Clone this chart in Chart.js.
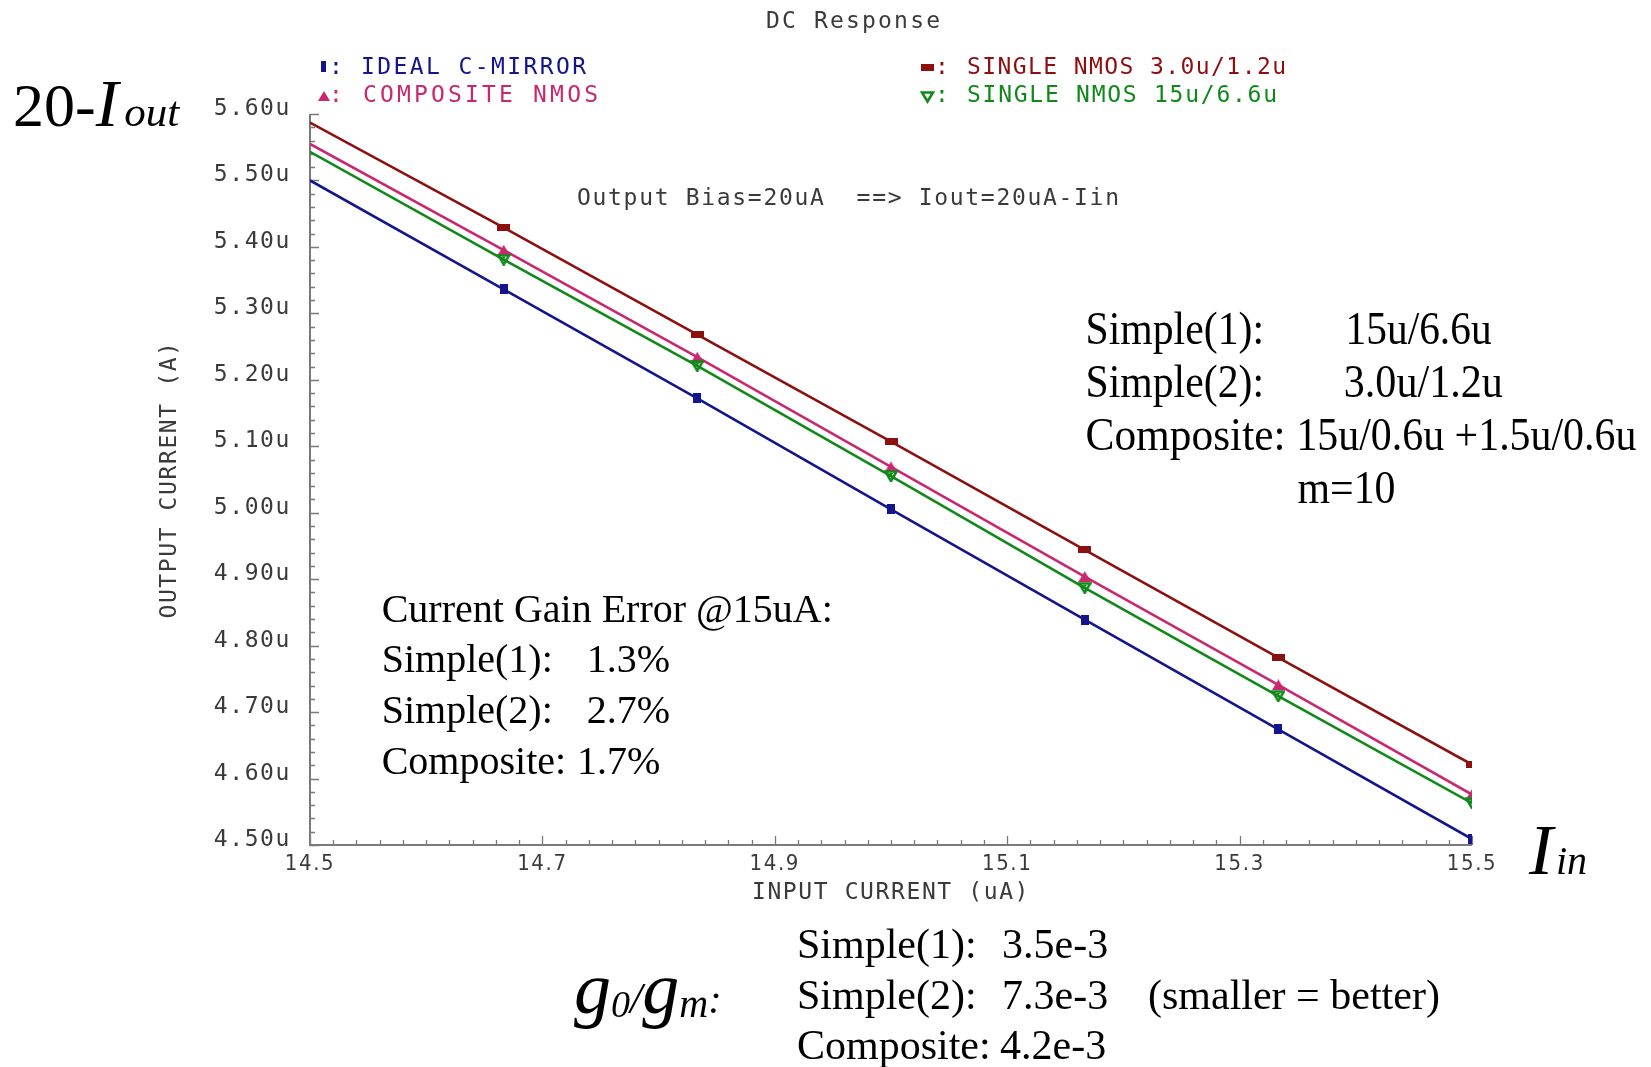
<!DOCTYPE html>
<html><head><meta charset="utf-8">
<script src="https://cdn.jsdelivr.net/npm/chart.js@4/dist/chart.umd.min.js"></script>
<style>
html,body{margin:0;padding:0;background:#fff;}
#wrap{position:relative;width:1651px;height:1067px;overflow:hidden;background:#fff;}
#c{position:absolute;left:0;top:0;}
#ov{position:absolute;left:0;top:0;pointer-events:none;}
#ov text{white-space:pre;}
</style></head><body>
<div id="wrap"><canvas id="c" width="1651" height="1067"></canvas>
<svg id="ov" width="1651" height="1067" xmlns="http://www.w3.org/2000/svg"></svg></div>
<script>
// ---- data ----
const inputCurrent   = [14.5, 14.6667, 14.8333, 15.0, 15.1667, 15.3333, 15.5];
const idealMirror    = [5.500, 5.336, 5.172, 5.005, 4.839, 4.674, 4.509];
const compositeNmos  = [5.555, 5.395, 5.234, 5.069, 4.904, 4.741, 4.576];
const singleNmos3u   = [5.587, 5.429, 5.268, 5.107, 4.944, 4.782, 4.621];
const singleNmos15u  = [5.543, 5.381, 5.221, 5.055, 4.887, 4.724, 4.563];
const seriesNames = ['IDEAL C-MIRROR', 'COMPOSITE NMOS', 'SINGLE NMOS 3.0u/1.2u', 'SINGLE NMOS 15u/6.6u'];
const yTickValues = [4.5, 4.6, 4.7, 4.8, 4.9, 5.0, 5.1, 5.2, 5.3, 5.4, 5.5, 5.6];
const yTickLabels = ['4.50u','4.60u','4.70u','4.80u','4.90u','5.00u','5.10u','5.20u','5.30u','5.40u','5.50u','5.60u'];
const xTickValues = [14.5, 14.7, 14.9, 15.1, 15.3, 15.5];
const xTickLabels = ['14.5','14.7','14.9','15.1','15.3','15.5'];

const MONO = "'DejaVu Sans Mono', monospace";
const SERIF = "'Liberation Serif', 'Times New Roman', serif";
const TXT = '#3a3a3a';
const C_BLUE = '#14148c', C_PINK = '#c8286e', C_RED = '#8c1010', C_GREEN = '#11891a';

function marker(kind, color) {
  const cv = document.createElement('canvas');
  const g = cv.getContext('2d');
  if (kind === 'vrect') { cv.width = 8; cv.height = 10; g.fillStyle = color; g.fillRect(0,0,8,10); }
  else if (kind === 'hrect') { cv.width = 13; cv.height = 7; g.fillStyle = color; g.fillRect(0,0,13,7); }
  else if (kind === 'up') { cv.width = 13; cv.height = 11; g.fillStyle = color; g.beginPath(); g.moveTo(6.5,0); g.lineTo(13,11); g.lineTo(0,11); g.closePath(); g.fill(); }
  else { cv.width = 14; cv.height = 12; g.strokeStyle = color; g.fillStyle = color; g.lineWidth = 2.5;
         g.beginPath(); g.moveTo(1.5,1.5); g.lineTo(12.5,1.5); g.lineTo(7,11); g.closePath(); g.stroke();
         g.beginPath(); g.moveTo(5,3); g.lineTo(9,3); g.lineTo(7,6.5); g.closePath(); g.fill(); }
  return cv;
}
function pts(ys) { return inputCurrent.map((x, i) => ({x: x, y: ys[i]})); }
function ds(label, ys, color, style) {
  return { label, data: pts(ys), borderColor: color, backgroundColor: color, borderWidth: 2.6,
    tension: 0, fill: false, pointStyle: style,
    pointRadius: ctx => ctx.dataIndex === 0 ? 0 : 5, pointHoverRadius: 0 };
}

const spacingPlugin = { id: 'spacing',
  beforeUpdate(chart) { chart.ctx.letterSpacing = '1.6px'; },
  beforeDraw(chart) { chart.ctx.letterSpacing = '1.6px'; } };

const innerTicks = { id: 'innerTicks',
  beforeDatasetsDraw(chart) {
    const {ctx, chartArea: a, scales: {x, y}} = chart;
    ctx.save();
    ctx.strokeStyle = '#7a7a7a';
    ctx.lineWidth = 2;
    ctx.beginPath();
    ctx.moveTo(a.left, a.top); ctx.lineTo(a.left, a.bottom); ctx.lineTo(a.right, a.bottom);
    ctx.stroke();
    ctx.lineWidth = 1.3;
    ctx.beginPath();
    const ny = 55, nx = 50;
    for (let i = 0; i <= ny; i++) {
      const py = Math.round(y.getPixelForValue(y.min + i * (y.max - y.min) / ny)) + 0.5;
      const len = i % 5 === 0 ? 9 : 5;
      ctx.moveTo(a.left, py); ctx.lineTo(a.left + len, py);
    }
    for (let i = 0; i <= nx; i++) {
      const px = Math.round(x.getPixelForValue(x.min + i * (x.max - x.min) / nx)) + 0.5;
      const len = i % 10 === 0 ? 9 : 5;
      ctx.moveTo(px, a.bottom); ctx.lineTo(px, a.bottom - len);
    }
    ctx.stroke();
    ctx.restore();
  } };

new Chart(document.getElementById('c'), {
  type: 'line',
  data: { datasets: [
    ds(seriesNames[0], idealMirror, C_BLUE, marker('vrect', C_BLUE)),
    ds(seriesNames[3], singleNmos15u, C_GREEN, marker('down', C_GREEN)),
    ds(seriesNames[1], compositeNmos, C_PINK, marker('up', C_PINK)),
    ds(seriesNames[2], singleNmos3u, C_RED, marker('hrect', C_RED))
  ]},
  options: {
    responsive: false, animation: false, events: [],
    layout: { padding: { top: 114, right: 179, bottom: 0, left: 0 } },
    plugins: { legend: { display: false }, title: { display: false }, tooltip: { enabled: false } },
    scales: {
      x: { type: 'linear', min: 14.5, max: 15.5,
        grid: { display: false, drawTicks: false }, border: { display: false },
        afterBuildTicks: s => { s.ticks = xTickValues.map(v => ({value: v})); },
        afterFit: s => { s.height = 222; },
        ticks: { padding: 6, color: TXT, autoSkip: false, maxRotation: 0,
          font: { family: "'DejaVu Sans Condensed', 'DejaVu Sans', sans-serif", size: 22 },
          callback: (v, i) => xTickLabels[i] },
        title: { display: true, text: 'INPUT CURRENT (uA)', color: TXT,
          font: { family: MONO, size: 23 }, padding: { top: 0, bottom: 160 } } },
      y: { type: 'linear', min: 4.5, max: 5.6,
        grid: { display: false, drawTicks: false }, border: { display: false },
        afterBuildTicks: s => { s.ticks = yTickValues.map(v => ({value: v})); },
        afterFit: s => { s.width = 310; },
        ticks: { padding: 19, labelOffset: -5, color: TXT, autoSkip: false,
          font: { family: MONO, size: 23 },
          callback: (v, i) => yTickLabels[i] },
        title: { display: true, text: 'OUTPUT CURRENT (A)', color: TXT,
          font: { family: MONO, size: 23 }, padding: { top: 156, bottom: 0 } } }
    }
  },
  plugins: [spacingPlugin, innerTicks]
});

// ---- overlay text (SVG) ----
const NS = 'http://www.w3.org/2000/svg';
const svg = document.getElementById('ov');
function el(tag, attrs, parent) {
  const e = document.createElementNS(NS, tag);
  for (const k in attrs) e.setAttribute(k, attrs[k]);
  (parent || svg).appendChild(e); return e;
}
function text(x, y, s, o) {
  o = o || {};
  const a = { x, y, 'font-family': o.family || SERIF, 'font-size': o.size || 40, fill: o.fill || '#000' };
  if (o.anchor) a['text-anchor'] = o.anchor;
  if (o.len) { a.textLength = o.len; a.lengthAdjust = o.adjust || 'spacingAndGlyphs'; }
  if (o.italic) a['font-style'] = 'italic';
  const t = el('text', a); t.textContent = s; return t;
}
function rich(x, y, parts) {
  const t = el('text', { x, y, 'font-family': SERIF, fill: '#000' });
  parts.forEach(p => {
    const sp = el('tspan', { 'font-size': p.size }, t);
    if (p.italic) sp.setAttribute('font-style', 'italic');
    if (p.dy) sp.setAttribute('dy', p.dy);
    if (p.dx) sp.setAttribute('dx', p.dx);
    sp.textContent = p.t;
  });
  return t;
}

// title
text(853, 27.5, 'DC Response', { family: MONO, size: 23, fill: TXT, anchor: 'middle', len: 174, adjust: 'spacing' });

// legend
el('rect', { x: 321, y: 61, width: 5, height: 11, fill: C_BLUE });
text(329, 74, ':', { family: MONO, size: 23, fill: C_BLUE });
text(361, 74, seriesNames[0], { family: MONO, size: 23, fill: C_BLUE, len: 225, adjust: 'spacing' });
el('polygon', { points: '318,101 330,101 324,91', fill: C_PINK });
text(329, 102, ':', { family: MONO, size: 23, fill: C_PINK });
text(363, 102, seriesNames[1], { family: MONO, size: 23, fill: C_PINK, len: 235, adjust: 'spacing' });
el('rect', { x: 921, y: 64, width: 13, height: 7, fill: C_RED });
text(935, 74, ':', { family: MONO, size: 23, fill: C_RED });
text(967, 74, seriesNames[2], { family: MONO, size: 23, fill: C_RED, len: 319, adjust: 'spacing' });
el('polygon', { points: '922,92.5 933,92.5 927.5,101.5', fill: 'none', stroke: C_GREEN, 'stroke-width': 2.5 });
text(935, 102, ':', { family: MONO, size: 23, fill: C_GREEN });
text(967, 102, seriesNames[3], { family: MONO, size: 23, fill: C_GREEN, len: 310, adjust: 'spacing' });

// in-plot note
text(577, 205, 'Output Bias=20uA  ==> Iout=20uA-Iin', { family: MONO, size: 23, fill: TXT, len: 542, adjust: 'spacing' });

// axis-variable labels
rich(13, 126, [ { t: '20-', size: 62 }, { t: 'I', size: 68, italic: true }, { t: 'out', size: 43, italic: true, dx: 6 } ]);
rich(1529, 874, [ { t: 'I', size: 72, italic: true }, { t: 'in', size: 40, italic: true, dx: 3 } ]);
rich(574, 1013, [ { t: 'g', size: 74, italic: true }, { t: '0', size: 38, italic: true, dy: 4 },
  { t: '/', size: 44, italic: true, dy: -4 }, { t: 'g', size: 74, italic: true }, { t: 'm', size: 40, italic: true, dy: 4 },
  { t: ':', size: 40, italic: true, dy: -4 } ]);

// device sizes block
const R = 47;
text(1085.5, 344.4, 'Simple(1):', { size: R, len: 178.5 });
text(1345.6, 344.4, '15u/6.6u', { size: R, len: 146 });
text(1085.5, 397.3, 'Simple(2):', { size: R, len: 178.5 });
text(1343.8, 397.3, '3.0u/1.2u', { size: R, len: 159 });
text(1085.5, 450.2, 'Composite:', { size: R, len: 200 });
text(1296.4, 450.2, '15u/0.6u +1.5u/0.6u', { size: R, len: 340 });
text(1297.5, 502.7, 'm=10', { size: R, len: 98 });

// gain error block
text(381.7, 621.7, 'Current Gain Error @15uA:', { size: 40 });
text(381.7, 671.7, 'Simple(1):', { size: 40 });
text(586.7, 671.7, '1.3%', { size: 40 });
text(381.7, 723.3, 'Simple(2):', { size: 40 });
text(586.7, 723.3, '2.7%', { size: 40 });
text(381.7, 774, 'Composite:', { size: 40 });
text(577, 774, '1.7%', { size: 40 });

// g0/gm block
const B = 42;
text(797, 958, 'Simple(1):', { size: B });
text(1002, 958, '3.5e-3', { size: B });
text(797, 1009, 'Simple(2):', { size: B });
text(1002, 1009, '7.3e-3', { size: B });
text(1148, 1009, '(smaller = better)', { size: B });
text(797, 1059, 'Composite:', { size: B });
text(1000, 1059, '4.2e-3', { size: B });
</script>
</body></html>
